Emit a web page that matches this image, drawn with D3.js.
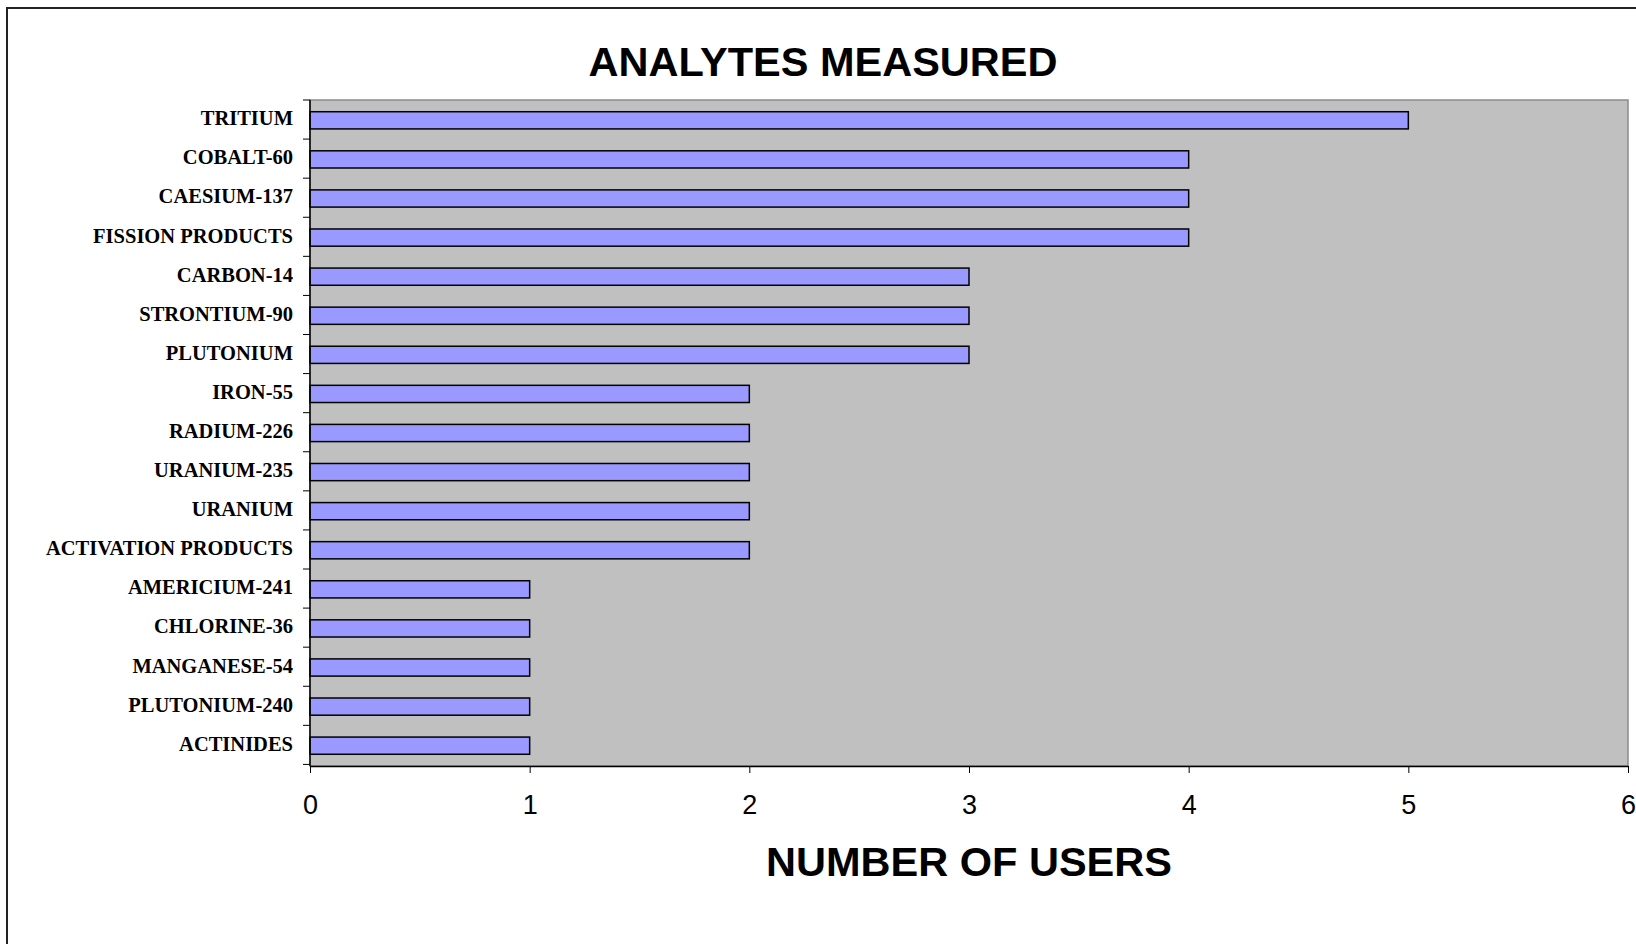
<!DOCTYPE html>
<html>
<head>
<meta charset="utf-8">
<script src="https://cdn.jsdelivr.net/npm/d3@7"></script>
<style>
  html, body { margin: 0; padding: 0; background: #fff; }
  svg { display: block; }
</style>
</head>
<body>
<div id="chart"></div>
<script>
// Analytes and how many users measure each one
const categories = [
  "TRITIUM", "COBALT-60", "CAESIUM-137", "FISSION PRODUCTS", "CARBON-14",
  "STRONTIUM-90", "PLUTONIUM", "IRON-55", "RADIUM-226", "URANIUM-235",
  "URANIUM", "ACTIVATION PRODUCTS", "AMERICIUM-241", "CHLORINE-36",
  "MANGANESE-54", "PLUTONIUM-240", "ACTINIDES"
];
const users = [5, 4, 4, 4, 3, 3, 3, 2, 2, 2, 2, 2, 1, 1, 1, 1, 1];
const xTicks = [0, 1, 2, 3, 4, 5, 6];
const chartTitle = "ANALYTES MEASURED";
const xTitle = "NUMBER OF USERS";

const W = 1636, H = 944;
const plot = { left: 310, top: 100, right: 1628, bottom: 766 };

const svg = d3.select("#chart").append("svg")
  .attr("width", W).attr("height", H);

// outer chart frame (left and top edges)
svg.append("path")
  .attr("d", `M7,${H} L7,8 L${W},8`)
  .attr("fill", "none").attr("stroke", "#222").attr("stroke-width", 2);

const x = d3.scaleLinear().domain([0, 6]).range([plot.left, plot.right]);
const y = d3.scaleBand().domain(categories)
  .range([plot.top, plot.bottom])
  .paddingInner(0.56).paddingOuter(0.3);

// plot area
svg.append("rect")
  .attr("x", plot.left).attr("y", plot.top)
  .attr("width", plot.right - plot.left).attr("height", plot.bottom - plot.top)
  .attr("fill", "#c0c0c0").attr("stroke", "#8a8a8a").attr("stroke-width", 1.5);

// bars
svg.append("g").selectAll("rect")
  .data(categories.map((c, i) => ({ c, v: users[i] })))
  .join("rect")
  .attr("x", x(0))
  .attr("y", d => y(d.c))
  .attr("width", d => x(d.v) - x(0))
  .attr("height", y.bandwidth())
  .attr("fill", "#9999ff")
  .attr("stroke", "#000")
  .attr("stroke-width", 1.5);

// x axis
const xAxis = svg.append("g")
  .attr("transform", `translate(0,${plot.bottom})`)
  .call(d3.axisBottom(x).tickValues(xTicks).tickFormat(d3.format("d"))
    .tickSize(7).tickSizeOuter(0).tickPadding(22));
xAxis.select(".domain").attr("stroke", "#000").attr("stroke-width", 1.5);
xAxis.selectAll(".tick line").attr("stroke", "#000");
xAxis.selectAll(".tick text")
  .attr("font-family", "Liberation Sans, Arial, sans-serif")
  .attr("font-size", 27).attr("fill", "#000");

// y axis: line plus ticks at category boundaries
const step = y.step();
const boundaries = d3.range(categories.length + 1)
  .map(i => plot.top + i * step);
const yAxis = svg.append("g");
yAxis.append("line")
  .attr("x1", plot.left).attr("x2", plot.left)
  .attr("y1", plot.top).attr("y2", plot.bottom)
  .attr("stroke", "#000").attr("stroke-width", 1.5);
yAxis.selectAll("line.tick")
  .data(boundaries)
  .join("line").attr("class", "tick")
  .attr("x1", plot.left - 7).attr("x2", plot.left)
  .attr("y1", d => d).attr("y2", d => d)
  .attr("stroke", "#000").attr("stroke-width", 1);
yAxis.selectAll("text")
  .data(categories)
  .join("text")
  .attr("x", 293)
  .attr("y", d => y(d) + y.bandwidth() / 2 + 5)
  .attr("text-anchor", "end")
  .attr("font-family", "Liberation Serif, Times New Roman, serif")
  .attr("font-weight", "bold")
  .attr("font-size", 20.5)
  .attr("fill", "#000")
  .text(d => d);

// titles
svg.append("text")
  .attr("x", 823).attr("y", 76)
  .attr("text-anchor", "middle")
  .attr("font-family", "Liberation Sans, Arial, sans-serif")
  .attr("font-weight", "bold").attr("font-size", 41.5)
  .text(chartTitle);

svg.append("text")
  .attr("x", (plot.left + plot.right) / 2).attr("y", 876)
  .attr("text-anchor", "middle")
  .attr("font-family", "Liberation Sans, Arial, sans-serif")
  .attr("font-weight", "bold").attr("font-size", 41.5)
  .text(xTitle);
</script>
</body>
</html>
